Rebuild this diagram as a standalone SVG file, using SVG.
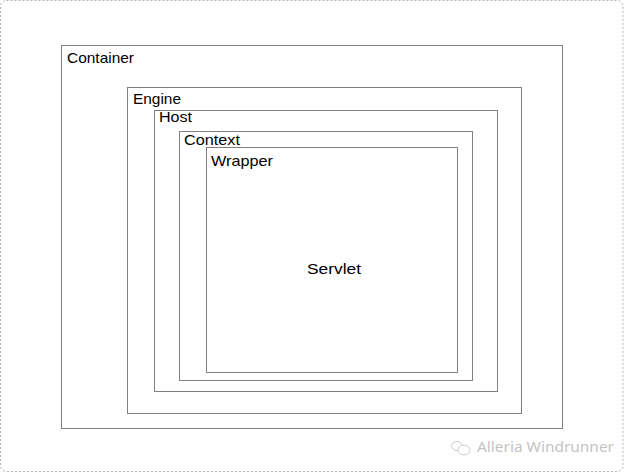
<svg xmlns="http://www.w3.org/2000/svg" width="624" height="473" viewBox="0 0 624 473">
<style>
.box{fill:none;stroke:#808080;stroke-width:1}
.lbl{font-family:"Liberation Sans",Arial,sans-serif;font-size:14.5px;fill:#000}
.wm{font-family:"Noto Sans","Liberation Sans",sans-serif;font-size:15px;fill:#c4c4c4}
</style>
<rect x="0" y="0" width="624" height="473" fill="#fff"/>
<rect x="0.5" y="0.5" width="622.5" height="471" rx="6" fill="none" stroke="#b4b4b4" stroke-width="1" stroke-dasharray="2,2"/>
<g id="container"><rect class="box" x="61.5" y="45.5" width="501" height="383"/><text class="lbl" x="67" y="63" textLength="67" lengthAdjust="spacingAndGlyphs">Container</text></g>
<g id="engine"><rect class="box" x="127.5" y="87.5" width="394" height="326"/><text class="lbl" x="133" y="104" textLength="48" lengthAdjust="spacingAndGlyphs">Engine</text></g>
<g id="host"><rect class="box" x="154.5" y="110.5" width="343" height="281"/><text class="lbl" x="159" y="122" textLength="33" lengthAdjust="spacingAndGlyphs">Host</text></g>
<g id="context"><rect class="box" x="179.5" y="131.5" width="293" height="249"/><text class="lbl" x="184" y="145" textLength="56" lengthAdjust="spacingAndGlyphs">Context</text></g>
<g id="wrapper"><rect class="box" x="206.5" y="147.5" width="251" height="225"/><text class="lbl" x="211" y="165.5" textLength="62" lengthAdjust="spacingAndGlyphs">Wrapper</text><text class="lbl" x="307" y="274" textLength="54" lengthAdjust="spacingAndGlyphs">Servlet</text></g>
<g id="watermark">
<ellipse cx="457" cy="446" rx="5.5" ry="4.5" fill="none" stroke="#cccccc" stroke-width="1"/>
<ellipse cx="464" cy="450" rx="6" ry="5" fill="#fff" stroke="#cccccc" stroke-width="1"/>
<text class="wm" x="477" y="452" textLength="137" lengthAdjust="spacingAndGlyphs">Alleria Windrunner</text>
</g>
</svg>
